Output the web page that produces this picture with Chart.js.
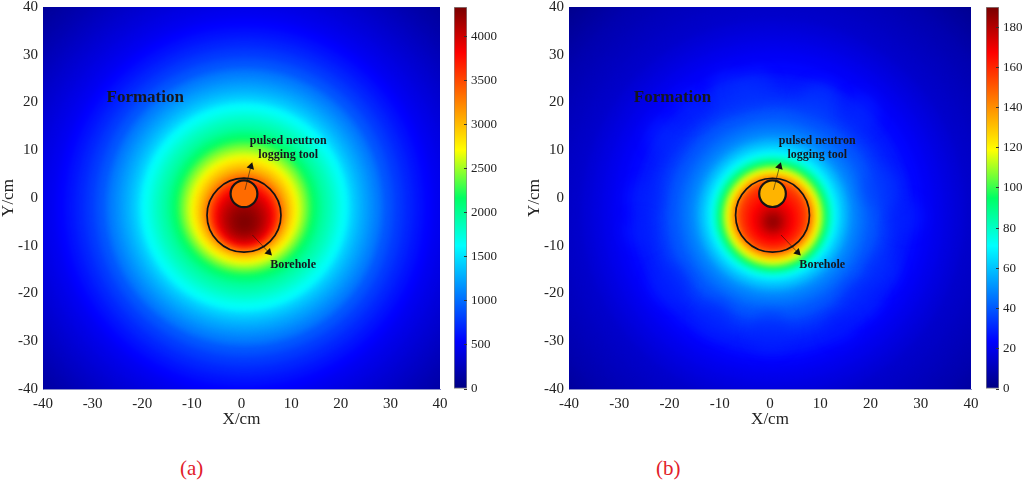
<!DOCTYPE html>
<html>
<head>
<meta charset="utf-8">
<script src="https://cdn.jsdelivr.net/npm/chart.js@4/dist/chart.umd.min.js"></script>
<style>
    html, body { margin: 0; padding: 0; background: #fff; }
    body { position: relative; width: 1024px; height: 482px; overflow: hidden; }
    canvas { position: absolute; top: 0; }
    .panel-label { position: absolute; top: 456px; font: 21px "Liberation Serif", serif; color: #e2202a; }
</style>
</head>
<body>
<canvas id="fieldA" style="left:0"></canvas>
<canvas id="barA" style="left:450px"></canvas>
<canvas id="fieldB" style="left:526px"></canvas>
<canvas id="barB" style="left:982px"></canvas>
<div class="panel-label" style="left:180px">(a)</div>
<div class="panel-label" style="left:656px">(b)</div>
<script>
// rings, radius in cm, biggest first
const ringRadii = [60, 58, 56, 54, 52, 50, 48, 46, 44, 42, 40, 38, 36, 34, 32, 30, 28, 27, 26, 25, 24, 23, 22, 21, 20.5, 20, 19, 18, 17, 16, 15, 14.5, 14, 13.5, 13, 12.5, 12, 11.5, 11, 10.5, 10, 9.5, 9, 8.5, 8, 7.5, 7, 6.5, 6, 5.5, 5, 4.5, 4, 3.5, 3, 2.5, 2, 1.5, 1, 0.5];
const ringValuesA = [90, 110, 140, 175, 215, 255, 300, 340, 385, 430, 480, 540, 620, 700, 790, 900, 1020, 1085, 1150, 1220, 1290, 1370, 1460, 1560, 1620, 1670, 1760, 1840, 1910, 1980, 2060, 2100, 2150, 2230, 2320, 2400, 2480, 2560, 2640, 2730, 2820, 2900, 2990, 3090, 3200, 3340, 3480, 3620, 3740, 3850, 3950, 4010, 4070, 4120, 4170, 4210, 4240, 4270, 4295, 4315];
const ringValuesB = [1.5, 3, 4.5, 6, 7.5, 9, 10, 11, 12, 13, 14, 16, 18, 20, 22, 24.5, 27, 28, 29, 30.5, 32, 34, 36, 38, 39, 40, 42.5, 45, 47.5, 51, 55, 57.5, 60, 63, 66, 70, 75, 81, 88, 96, 105, 113, 120, 128, 136, 144, 151, 155, 158, 161, 163, 165, 167, 170, 172, 175, 178, 181, 184, 187];
const ringCentreYA = [-1.9, -1.9, -1.9, -1.9, -1.9, -1.9, -1.9, -1.9, -1.9, -1.9, -1.9, -1.9, -1.9, -1.9, -1.9, -1.9, -1.9, -1.9, -1.9, -1.9, -1.9, -1.9, -1.9, -1.9, -1.9, -1.9, -1.9, -1.9, -1.9, -1.9, -1.9, -1.9, -1.9, -1.95, -2, -2.05, -2.1, -2.2, -2.3, -2.4, -2.5, -2.6, -2.7, -2.85, -3, -3.15, -3.3, -3.45, -3.6, -3.8, -4, -4.15, -4.3, -4.45, -4.6, -4.7, -4.8, -4.9, -5, -5];
const ringCentreYB = [-2.8, -2.8, -2.8, -2.8, -2.8, -2.8, -2.8, -2.8, -2.8, -2.8, -2.8, -2.8, -2.8, -2.8, -2.8, -3, -3.5, -3.5, -3.5, -3.5, -3.5, -3.5, -3.5, -3.5, -3.5, -3.5, -3.5, -3.5, -3.5, -3.5, -3.5, -3.5, -3.5, -3.5, -3.5, -3.5, -3.6, -3.6, -3.7, -3.7, -3.8, -3.8, -3.8, -3.8, -3.8, -3.8, -3.8, -3.9, -3.9, -4, -4.3, -4.4, -4.5, -4.6, -4.7, -4.8, -4.9, -4.9, -5, -5];
const ringCentreXA = 0.6;
const ringCentreXB = 0.6;

// lighter lumps in the halo of panel b, cm
const lumpX = [-8, -3, 10, 18, 27, 22, 22, 18, -21, -25, -26, -20, -11, 0, -16, 14];
const lumpY = [22, 23, 20, 18, -4, 2, -15, -21, 13, 0, -7, -18, -25, -28, 19, -27];
const lumpRadius = [4, 3.5, 4, 3.5, 3.5, 4, 3.5, 4, 3.5, 3.5, 3, 4, 3.5, 4, 3, 3];
const lumpValue = [34, 34, 36, 32, 30, 34, 32, 30, 32, 30, 30, 30, 30, 30, 30, 28];

// borehole and tool circles: x, y, radius in cm, value of the fill
const circleX = [0.5, 0.5];
const circleY = [-3.6, 0.9];
const circleRadiusA = [7.45, 2.7];
const circleRadiusB = [7.35, 2.65];
const toolValueA = 3350;
const toolValueB = 133;

const xTicks = [-40, -30, -20, -10, 0, 10, 20, 30, 40];
const yTicks = [-40, -30, -20, -10, 0, 10, 20, 30, 40];
const barMaxA = 4335;
const barMaxB = 190;
const barTicksA = [0, 500, 1000, 1500, 2000, 2500, 3000, 3500, 4000];
const barTicksB = [0, 20, 40, 60, 80, 100, 120, 140, 160, 180];

// arrows from the labels, last point is the head
const toolArrowX = [0.7, 1.9];
const toolArrowY = [1.7, 6.6];
const boreArrowX = [2.2, 5.5];
const boreArrowY = [-7.75, -11.4];

const jetStops = [0, 0.125, 0.375, 0.5, 0.625, 0.88, 1];
const jetColors = [[0, 0, 128], [0, 0, 255], [0, 255, 255], [0, 255, 100], [255, 255, 0], [255, 0, 0], [120, 0, 0]];

const serif = '"Liberation Serif", serif';
const edgeColor = 'rgba(110,115,190,0.8)';

function jet(t) {
    t = Math.max(0, Math.min(1, t));
    let i = 0;
    while (i < jetStops.length - 2 && t > jetStops[i + 1]) i++;
    const f = (t - jetStops[i]) / (jetStops[i + 1] - jetStops[i]);
    const a = jetColors[i], b = jetColors[i + 1];
    return 'rgb(' + a.map((v, k) => Math.round(v + (b[k] - v) * f)).join(',') + ')';
}

// px per cm of the x scale, rings and circles stay round on screen
function cmToPixels(c, cm) {
    const x = c.chart.scales.x;
    return Math.abs(x.getPixelForValue(cm) - x.getPixelForValue(0)) || 0;
}

// tick labels should not eat into the plot area
function noLabelMargins(axis) {
    axis.paddingTop = 0;
    axis.paddingBottom = 0;
    axis.paddingLeft = 0;
    axis.paddingRight = 0;
}

const softenRings = {
    id: 'softenRings',
    beforeDatasetDraw(chart, args) {
        const blur = chart.data.datasets[args.index].blur;
        if (blur) chart.ctx.filter = 'blur(' + blur + 'px)';
    },
    afterDatasetDraw(chart) {
        chart.ctx.filter = 'none';
    }
};

const labelText = {
    id: 'labelText',
    afterDatasetsDraw(chart) {
        const ctx = chart.ctx, x = chart.scales.x, y = chart.scales.y;
        const put = (text, cx, cy, size) => {
            ctx.font = 'bold ' + size + 'px ' + serif;
            ctx.fillText(text, x.getPixelForValue(cx), y.getPixelForValue(cy));
        };
        ctx.save();
        ctx.fillStyle = '#16161e';
        ctx.textAlign = 'center';
        ctx.textBaseline = 'middle';
        put('Formation', -19.4, 21, 17);
        put('pulsed neutron', 9.4, 11.9, 12);
        put('logging tool', 9.4, 9, 12);
        put('Borehole', 10.4, -14, 12);
        ctx.restore();
    }
};

function arrowDataset(xs, ys, rotation) {
    return {
        showLine: true,
        order: 1,
        data: xs.map((x, i) => ({ x: x, y: ys[i] })),
        borderColor: 'rgba(20,20,20,0.7)',
        borderWidth: 0.8,
        pointStyle: 'triangle',
        pointRotation: rotation,
        pointRadius: [0, 4.5],
        pointBackgroundColor: '#111',
        pointBorderWidth: 0
    };
}

function drawField(id, width, ringValues, centreX, centreY, circleRadius, max, toolValue, lumps) {
    const canvas = document.getElementById(id);
    canvas.width = width;
    canvas.height = 430;
    canvas.style.width = width + 'px';
    canvas.style.height = '430px';

    const tickFont = { family: serif, size: 15 };
    const rings = ringRadii.map((r, i) => ({ x: centreX, y: centreY[i], ring: r, v: ringValues[i] }));
    const circles = circleX.map((x, i) => ({ x: x, y: circleY[i], ring: circleRadius[i], tool: i === 1 }));

    const datasets = [{
        order: 4,
        blur: 3,
        data: rings,
        pointBorderWidth: 0,
        pointRadius: c => cmToPixels(c, c.raw.ring),
        pointBackgroundColor: c => jet(c.raw.v / max)
    }, {
        order: 2,
        data: circles,
        pointBorderColor: '#141414',
        pointBorderWidth: c => c.raw.tool ? 2.2 : 1.7,
        pointRadius: c => cmToPixels(c, c.raw.ring),
        pointBackgroundColor: c => c.raw.tool ? jet(toolValue / max) : 'transparent'
    },
    arrowDataset(toolArrowX, toolArrowY, 17),
    arrowDataset(boreArrowX, boreArrowY, 135)];

    if (lumps) {
        datasets.push({
            order: 3,
            blur: 7,
            data: lumps,
            pointBorderWidth: 0,
            pointRadius: c => cmToPixels(c, c.raw.ring),
            pointBackgroundColor: c => jet(c.raw.v / max).replace('rgb', 'rgba').replace(')', ',0.45)')
        });
    }

    new Chart(canvas, {
        type: 'scatter',
        data: { datasets: datasets },
        options: {
            responsive: false,
            animation: false,
            events: [],
            layout: { padding: { top: 7, right: 15, left: 0, bottom: 0 } },
            plugins: { legend: false, tooltip: false },
            scales: {
                x: {
                    type: 'linear',
                    min: -40,
                    max: 40,
                    afterBuildTicks: axis => { axis.ticks = xTicks.map(v => ({ value: v })); },
                    afterFit: axis => { axis.height = 41; noLabelMargins(axis); },
                    grid: { display: false, drawTicks: false },
                    border: { color: edgeColor },
                    ticks: { color: '#222', font: tickFont, maxRotation: 0, autoSkip: false, padding: 6 },
                    title: { display: true, text: 'X/cm', color: '#222', font: { family: serif, size: 17, lineHeight: 1 }, padding: { top: 0, bottom: 1.5 } }
                },
                y: {
                    type: 'linear',
                    min: -40,
                    max: 40,
                    afterBuildTicks: axis => { axis.ticks = yTicks.map(v => ({ value: v })); },
                    afterFit: axis => { axis.width = 43; noLabelMargins(axis); },
                    grid: { display: false, drawTicks: false },
                    border: { color: edgeColor },
                    ticks: { color: '#222', font: tickFont, autoSkip: false, padding: 5 },
                    title: { display: true, text: 'Y/cm', color: '#222', font: { family: serif, size: 17, lineHeight: 1 }, padding: { top: 0, bottom: 0 } }
                }
            }
        },
        plugins: [softenRings, labelText]
    });
}

function drawBar(id, width, max, barTicks) {
    const canvas = document.getElementById(id);
    canvas.width = width;
    canvas.height = 430;
    canvas.style.width = width + 'px';
    canvas.style.height = '430px';

    new Chart(canvas, {
        type: 'bar',
        data: {
            labels: [''],
            datasets: [{
                data: [[0, max]],
                barPercentage: 1,
                categoryPercentage: 1,
                borderWidth: 1,
                borderSkipped: false,
                borderColor: 'rgba(70,70,70,0.65)',
                backgroundColor(c) {
                    const a = c.chart.chartArea;
                    if (!a) return '#000';
                    const g = c.chart.ctx.createLinearGradient(0, a.bottom, 0, a.top);
                    jetStops.forEach(s => g.addColorStop(s, jet(s)));
                    return g;
                }
            }]
        },
        options: {
            responsive: false,
            animation: false,
            events: [],
            layout: { padding: { top: 7, left: 4, right: 0, bottom: 41 } },
            plugins: { legend: false, tooltip: false },
            scales: {
                x: { display: false },
                y: {
                    position: 'right',
                    min: 0,
                    max: max,
                    afterBuildTicks: axis => { axis.ticks = barTicks.map(v => ({ value: v })); },
                    afterFit: axis => { axis.width = width - 17; noLabelMargins(axis); },
                    border: { display: false },
                    grid: { drawOnChartArea: false, tickLength: -3, tickColor: '#333', z: 1 },
                    ticks: { callback: v => String(v), autoSkip: false, color: '#222', font: { family: serif, size: 13 }, padding: 7 }
                }
            }
        }
    });
}

const lumpsB = lumpX.map((x, i) => ({ x: x, y: lumpY[i], ring: lumpRadius[i], v: lumpValue[i] }));

drawField('fieldA', 455, ringValuesA, ringCentreXA, ringCentreYA, circleRadiusA, barMaxA, toolValueA, null);
drawBar('barA', 70, barMaxA, barTicksA);
drawField('fieldB', 460, ringValuesB, ringCentreXB, ringCentreYB, circleRadiusB, barMaxB, toolValueB, lumpsB);
drawBar('barB', 42, barMaxB, barTicksB);
</script>
</body>
</html>
